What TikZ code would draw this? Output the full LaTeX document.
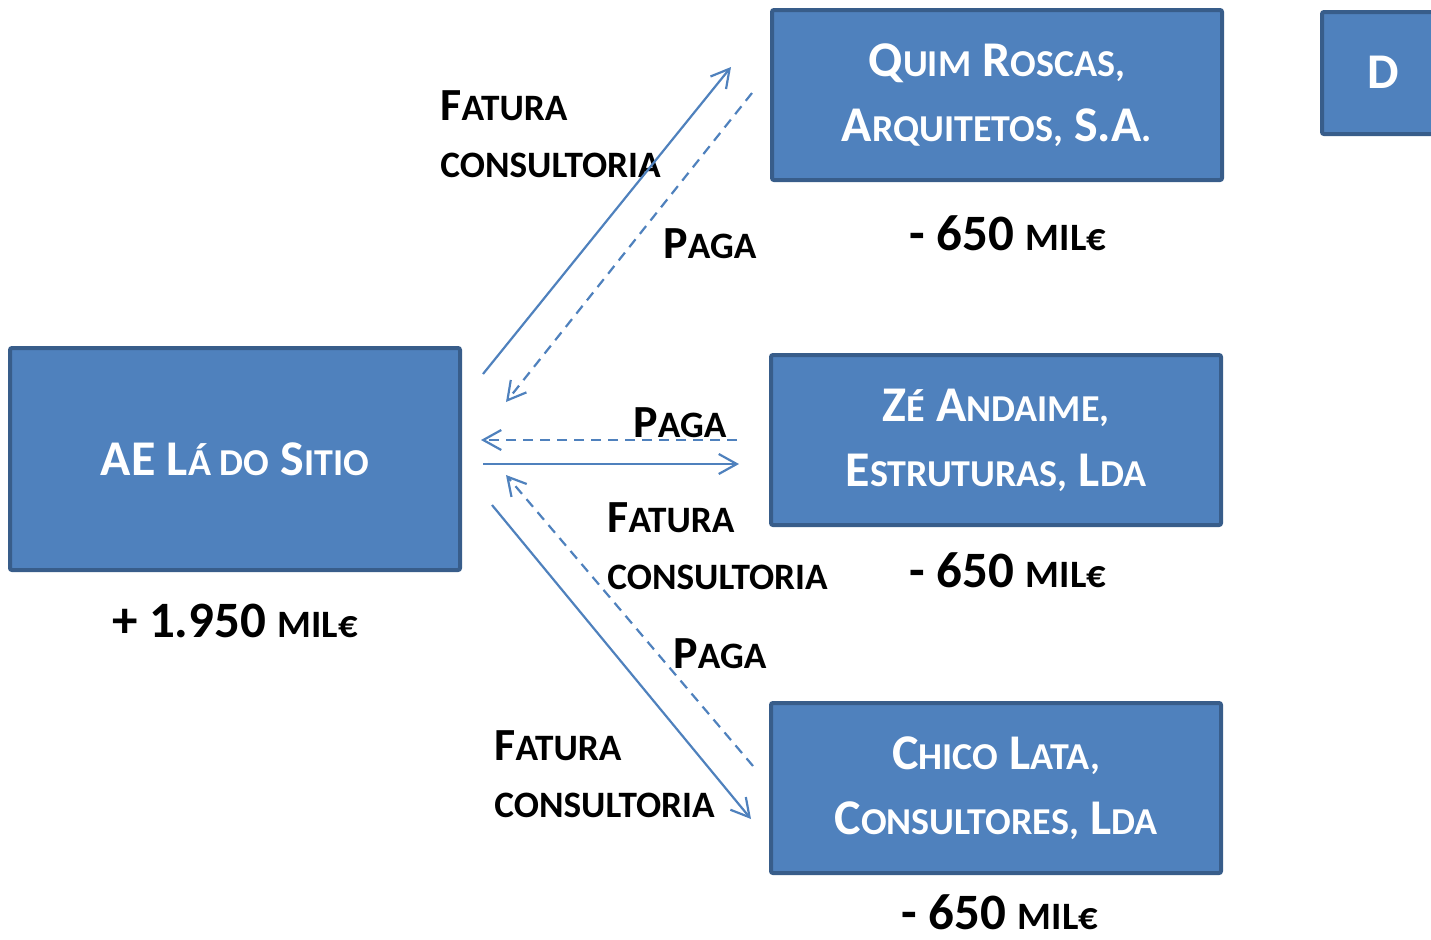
\documentclass[tikz,border=0pt]{standalone}
\usepackage{fontspec}
\setmainfont{Carlito}
\usetikzlibrary{arrows.meta}
\definecolor{boxfill}{HTML}{4F81BD}
\definecolor{boxline}{HTML}{385D8A}
\makeatletter
\def\lcr{0.76}
\newcommand\lc[1]{{\@tempdima=\f@size pt\@tempdima=\lcr\@tempdima
  \fontsize{\strip@pt\@tempdima}{\f@baselineskip}\selectfont\MakeUppercase{#1}}}
\makeatother
\tikzset{
  firma/.style={draw=boxline, line width=2pt, fill=boxfill, rounded corners=1pt,
    text=white, font=\fontsize{25}{32.5}\selectfont\bfseries, align=center,
    minimum width=225pt, minimum height=85pt, inner sep=0pt},
  rotulo/.style={font=\fontsize{23}{28}\selectfont\bfseries\def\lcr{0.81}, inner sep=0pt, anchor=base west},
  valor/.style={font=\fontsize{25.5}{30}\selectfont\bfseries, inner sep=0pt, anchor=base},
  fluxo/.style={draw=boxfill, line width=1.1pt, -{Straight Barb[length=9pt,width=10pt,line width=1.1pt]}},
  paga/.style={fluxo, dash pattern=on 5pt off 3.5pt}
}
\begin{document}
\begin{tikzpicture}[x=0.5pt,y=-0.5pt]
      \useasboundingbox (0,0) rectangle (1431,939);
      \node[firma, minimum height=111pt] (ae) at (235,459) {AE L\lc{á do} S\lc{itio}};
      \node[firma] (quim) at (997,95) {Q\lc{uim} R\lc{oscas,}\\A\lc{rquitetos,} S.A\lc{.}};
      \node[firma] (ze) at (996,440) {Z\lc{é} A\lc{ndaime,}\\E\lc{struturas,} L\lc{da}};
      \node[firma] (chico) at (996,788) {C\lc{hico} L\lc{ata,}\\C\lc{onsultores,} L\lc{da}};
      \node[firma, minimum width=60pt, minimum height=61pt, anchor=north west] (d) at (1320,10) {};
      \node[text=white, font=\fontsize{25}{30}\selectfont\bfseries] (dtxt) at (1383,72) {D};
      \node[valor] (vae) at (235,637) {+ 1.950 \lc{mil€}};
      \node[valor] (vquim) at (1008,250) {- 650 \lc{mil€}};
      \node[valor] (vze) at (1008,587) {- 650 \lc{mil€}};
      \node[valor] (vchico) at (1000,929) {- 650 \lc{mil€}};
      \node[rotulo] (fat1) at (440,120) {F\lc{atura}};
      \node[rotulo] (con1) at (440,177) {\lc{consultoria}};
      \node[rotulo] (pag1) at (663,258) {P\lc{aga}};
      \node[rotulo] (pag2) at (633,437) {P\lc{aga}};
      \node[rotulo] (fat2) at (607,532) {F\lc{atura}};
      \node[rotulo] (con2) at (607,589) {\lc{consultoria}};
      \node[rotulo] (pag3) at (673,668) {P\lc{aga}};
      \node[rotulo] (fat3) at (494,760) {F\lc{atura}};
      \node[rotulo] (con3) at (494,817) {\lc{consultoria}};
      \coordinate (a1) at (483,374);
      \coordinate (q1) at (731,67);
      \coordinate (q2) at (752,93);
      \coordinate (a2) at (506,402);
      \coordinate (z1) at (737,440);
      \coordinate (a3) at (481,440);
      \coordinate (a4) at (483,464);
      \coordinate (z2) at (739,464);
      \coordinate (c1) at (753,766);
      \coordinate (a5) at (506,475);
      \coordinate (a6) at (492,505);
      \coordinate (c2) at (751,819);
      \draw[fluxo] (a1) -- (q1);
      \draw[paga] (q2) -- (a2);
      \draw[paga] (z1) -- (a3);
      \draw[fluxo] (a4) -- (z2);
      \draw[paga] (c1) -- (a5);
      \draw[fluxo] (a6) -- (c2);
    \end{tikzpicture}
\end{document}
